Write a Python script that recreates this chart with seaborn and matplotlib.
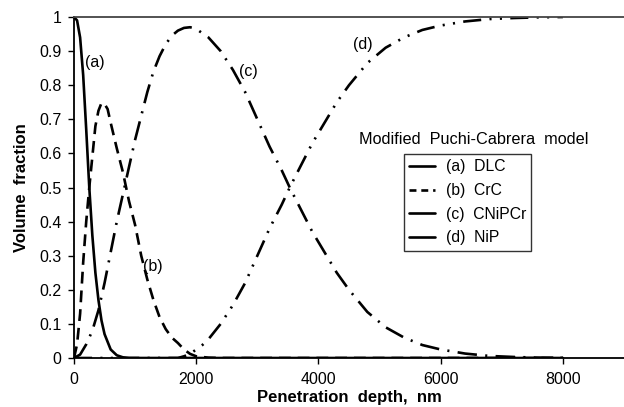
import matplotlib
matplotlib.use("Agg")
import matplotlib.pyplot as plt
import seaborn as sns
import pandas as pd
from matplotlib.lines import Line2D

# ---- data ----
depth_a = [0, 50, 100, 150, 200, 250, 300, 350, 400, 450, 500, 600, 700, 800, 900, 1200, 2000, 4000, 6000, 8000]
frac_a = [1.0, 0.99, 0.94, 0.83, 0.67, 0.5, 0.36, 0.25, 0.17, 0.11, 0.07, 0.025, 0.008, 0.002, 0.0, 0.0, 0.0, 0.0, 0.0, 0.0]

depth_b = [0, 50, 100, 150, 200, 250, 300, 350, 400, 450, 500, 550, 600, 700, 800, 900, 1000, 1100, 1200, 1300, 1400, 1500, 1600, 1700, 1800, 1900, 2000, 2200, 2400, 4000, 6000, 8000]
frac_b = [0.0, 0.04, 0.13, 0.28, 0.4, 0.5, 0.59, 0.68, 0.725, 0.748, 0.745, 0.73, 0.69, 0.615, 0.545, 0.46, 0.39, 0.3, 0.23, 0.17, 0.12, 0.085, 0.06, 0.044, 0.025, 0.012, 0.005, 0.001, 0.0, 0.0, 0.0, 0.0]

depth_c = [0, 100, 200, 300, 400, 500, 600, 700, 800, 900, 1000, 1100, 1200, 1300, 1400, 1500, 1600, 1700, 1800, 1900, 2000, 2200, 2400, 2600, 2800, 3000, 3200, 3400, 3530, 3700, 3900, 4100, 4300, 4500, 4800, 5100, 5400, 5700, 6000, 6400, 6800, 7200, 7600, 8000]
frac_c = [0.0, 0.01, 0.04, 0.08, 0.14, 0.22, 0.31, 0.4, 0.48, 0.56, 0.64, 0.71, 0.78, 0.84, 0.885, 0.92, 0.945, 0.96, 0.968, 0.97, 0.965, 0.94, 0.9, 0.845, 0.78, 0.7, 0.62, 0.55, 0.5, 0.44, 0.37, 0.31, 0.25, 0.2, 0.135, 0.09, 0.06, 0.038, 0.025, 0.013, 0.006, 0.003, 0.001, 0.0]

depth_d = [0, 1000, 1700, 1800, 1900, 2000, 2100, 2200, 2400, 2600, 2800, 3000, 3200, 3400, 3530, 3700, 3900, 4100, 4300, 4500, 4800, 5100, 5400, 5700, 6000, 6400, 6800, 7200, 7600, 8000]
frac_d = [0.0, 0.0, 0.0, 0.005, 0.012, 0.025, 0.038, 0.055, 0.1, 0.155, 0.22, 0.3, 0.38, 0.45, 0.5, 0.56, 0.63, 0.69, 0.75, 0.8, 0.865, 0.91, 0.94, 0.962, 0.975, 0.987, 0.994, 0.997, 0.999, 1.0]

series_names = ["(a)  DLC", "(b)  CrC", "(c)  CNiPCr", "(d)  NiP"]
curve_labels = ["(a)", "(b)", "(c)", "(d)"]
label_pos_x = [343, 1292, 2846, 4726]
label_pos_y = [0.868, 0.267, 0.839, 0.918]
x_ticks = [0, 2000, 4000, 6000, 8000]
y_ticks = [0, 0.1, 0.2, 0.3, 0.4, 0.5, 0.6, 0.7, 0.8, 0.9, 1.0]
y_tick_labels = ["0", "0.1", "0.2", "0.3", "0.4", "0.5", "0.6", "0.7", "0.8", "0.9", "1"]

# ---- build table ----
frames = []
for name, xs, ys in zip(series_names,
                        [depth_a, depth_b, depth_c, depth_d],
                        [frac_a, frac_b, frac_c, frac_d]):
    frames.append(pd.DataFrame({"depth": xs, "fraction": ys, "phase": name}))
df = pd.concat(frames, ignore_index=True)

sns.set_theme(style="white")
plt.rcParams["font.family"] = ["Liberation Sans", "DejaVu Sans"]
plt.rcParams["lines.scale_dashes"] = False
plt.rcParams["text.color"] = "black"
plt.rcParams["axes.labelcolor"] = "black"
plt.rcParams["xtick.color"] = "black"
plt.rcParams["ytick.color"] = "black"

fig = plt.figure(figsize=(6.24, 4.07), dpi=100)
ax = fig.add_axes([74 / 624, 49 / 407, 550 / 624, 341 / 407])

LW = 1.9
styles = {
    "(a)  DLC": "-",
    "(b)  CrC": (0, (8.5, 5)),
    "(c)  CNiPCr": (0, (14, 6, 1.5, 6)),
    "(d)  NiP": (0, (13, 6, 1.5, 6, 1.5, 6)),
}
for name in series_names:
    sub = df[df["phase"] == name]
    sns.lineplot(data=sub, x="depth", y="fraction", ax=ax, color="black",
                 linewidth=LW, linestyle=styles[name], legend=False,
                 estimator=None, sort=False)

ax.set_xlim(0, 9000)
ax.set_ylim(0, 1)
ax.set_xticks(x_ticks)
ax.set_xticklabels([str(t) for t in x_ticks])
ax.set_yticks(y_ticks)
ax.set_yticklabels(y_tick_labels)
ax.tick_params(axis="both", which="major", direction="out", length=4, width=1,
               color="black", labelsize=11.5, labelcolor="black",
               bottom=True, left=True)
ax.tick_params(axis="x", pad=6)
ax.tick_params(axis="y", pad=5)

for side in ["left", "bottom"]:
    ax.spines[side].set_color("black")
    ax.spines[side].set_linewidth(1.3)
ax.spines["top"].set_color("#444444")
ax.spines["top"].set_linewidth(1.3)
ax.spines["right"].set_visible(False)

ax.set_xlabel("Penetration  depth,  nm", fontsize=12, fontweight="bold", labelpad=2, color="black")
ax.set_ylabel("Volume  fraction", fontsize=12, fontweight="bold", labelpad=7, color="black")

for lab, lx, ly in zip(curve_labels, label_pos_x, label_pos_y):
    ax.text(lx, ly, lab, fontsize=11.5, ha="center", va="center", color="black")

ax.text(6540, 0.642, "Modified  Puchi-Cabrera  model", fontsize=11.7,
        ha="center", va="center", color="black")

handles = [
    Line2D([], [], color="black", lw=LW, linestyle="-"),
    Line2D([], [], color="black", lw=LW, linestyle=(0, (5, 3.5))),
    Line2D([], [], color="black", lw=LW, linestyle="-"),
    Line2D([], [], color="black", lw=LW, linestyle="-"),
]
leg = ax.legend(handles, series_names, loc="upper left",
                bbox_to_anchor=((404 - 74) / 550, (358 - 154) / 341),
                fontsize=11.3, frameon=True, fancybox=False, edgecolor="black",
                handlelength=1.6, handletextpad=0.7, borderpad=0.35,
                labelspacing=0.55, borderaxespad=0, labelcolor="black")
leg.get_frame().set_linewidth(1.0)

fig.savefig("out.png", dpi=100)
